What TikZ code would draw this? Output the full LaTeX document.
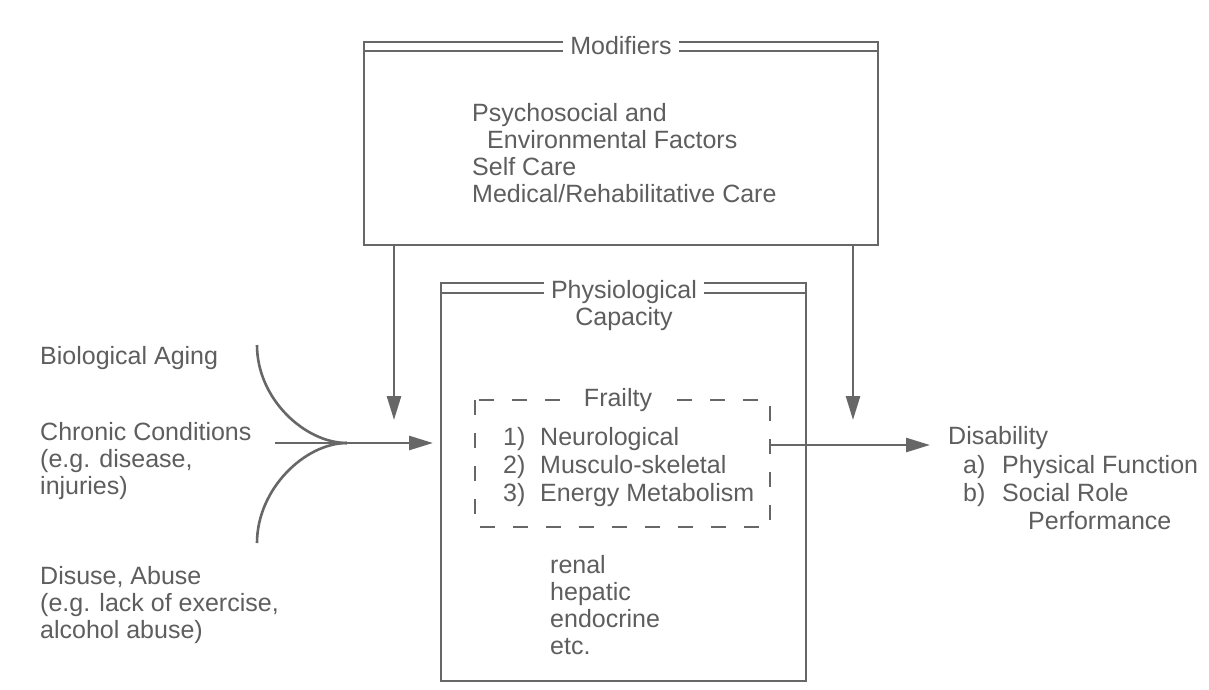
\documentclass[tikz,border=0pt]{standalone}
\usepackage{fontspec}
\setmainfont{Liberation Sans}
\usetikzlibrary{arrows.meta}
\definecolor{ink}{HTML}{676767}
\definecolor{txt}{HTML}{5E5E5E}
\begin{document}
\begin{tikzpicture}[x=1pt,y=-1pt,
  lab/.style={font=\fontsize{25}{27}\selectfont, text=txt, inner sep=0pt, anchor=base west},
  ttl/.style={font=\fontsize{25}{27}\selectfont, text=txt, fill=white, inner xsep=7pt, inner ysep=0pt, anchor=base},
  edge/.style={draw=ink, line width=2.6pt},
  arr/.style={edge, -{Triangle[length=24pt,width=14pt]}},
  dashbox/.style={draw=ink, line width=2.6pt, dash pattern=on 15pt off 18pt}]
\useasboundingbox (0,0) rectangle (1209,689);
\fill[white] (0,0) rectangle (1209,689);

% ---- Modifiers box
\coordinate (mTL) at (364,42);
\coordinate (mTR) at (878,42);
\coordinate (mBL) at (364,245);
\coordinate (mBR) at (878,245);
\draw[edge] (mTL) -- (mBL) -- (mBR) -- (mTR) -- cycle;
\draw[edge] (364,51) -- (878,51);
\node[ttl] (modt) at (621,54) {Modifiers};
\node[lab] (m1) at (472,121) {Psychosocial and};
\node[lab] (m2) at (487,148) {Environmental Factors};
\node[lab] (m3) at (472,175) {Self Care};
\node[lab] (m4) at (472,202) {Medical/Rehabilitative Care};

% ---- Physiological capacity box
\coordinate (pTL) at (441,283);
\coordinate (pTR) at (806,283);
\coordinate (pBL) at (441,681);
\coordinate (pBR) at (806,681);
\draw[edge] (pTL) -- (pBL) -- (pBR) -- (pTR) -- cycle;
\draw[edge] (441,293) -- (806,293);
\node[ttl] (phys) at (624,298) {Physiological};
\node[lab, anchor=base] (cap) at (624,325) {Capacity};

% ---- Frailty dashed box
\coordinate (fTL) at (475,400);
\coordinate (fTR) at (770,400);
\coordinate (fBL) at (475,527);
\coordinate (fBR) at (770,527);
\draw[dashbox] (fTL) -- (fBL) -- (fBR) -- (fTR) -- cycle;
\node[ttl, anchor=center] (frail) at (618,400) {Frailty};
\node[lab] (n1) at (503,445) {1)};
\node[lab] (w1) at (540,445) {Neurological};
\node[lab] (n2) at (503,473) {2)};
\node[lab] (w2) at (540,473) {Musculo-skeletal};
\node[lab] (n3) at (503,501) {3)};
\node[lab] (w3) at (540,501) {Energy Metabolism};

\node[lab] (r1) at (550,573) {renal};
\node[lab] (r2) at (550,600) {hepatic};
\node[lab] (r3) at (550,627) {endocrine};
\node[lab] (r4) at (550,654) {etc.};

% ---- left causes
\node[lab] (bio) at (40,364) {Biological Aging};
\node[lab] (c1) at (40,440) {Chronic Conditions};
\node[lab] (c2) at (40,467) {(e.g. disease,};
\node[lab] (c3) at (40,494) {injuries)};
\node[lab] (d1) at (40,584) {Disuse, Abuse};
\node[lab] (d2) at (40,611) {(e.g. lack of exercise,};
\node[lab] (d3) at (40,638) {alcohol abuse)};

% ---- disability
\node[lab] (dis) at (948,444) {Disability};
\node[lab] (a1) at (963,473) {a)};
\node[lab] (a2) at (1002,473) {Physical Function};
\node[lab] (b1) at (963,501) {b)};
\node[lab] (b2) at (1002,501) {Social Role};
\node[lab] (b3) at (1028,529) {Performance};

% ---- connectors
\coordinate (join) at (347,443);
\coordinate (upS) at (257,345);
\coordinate (loS) at (257,543);
\coordinate (hS) at (275,443);
\coordinate (pin) at (433,443);
\draw[edge] (upS) .. controls (257,399) and (305,443) .. (join);
\draw[edge] (loS) .. controls (257,489) and (305,443) .. (join);
\draw[arr] (hS) -- (pin);

\coordinate (dl) at (394,245);
\coordinate (dlT) at (394,420);
\coordinate (dr) at (853,245);
\coordinate (drT) at (853,420);
\draw[arr] (dl) -- (dlT);
\draw[arr] (dr) -- (drT);

\coordinate (fOut) at (770,445);
\coordinate (disIn) at (930,445);
\draw[arr] (fOut) -- (disIn);
\end{tikzpicture}
\end{document}
